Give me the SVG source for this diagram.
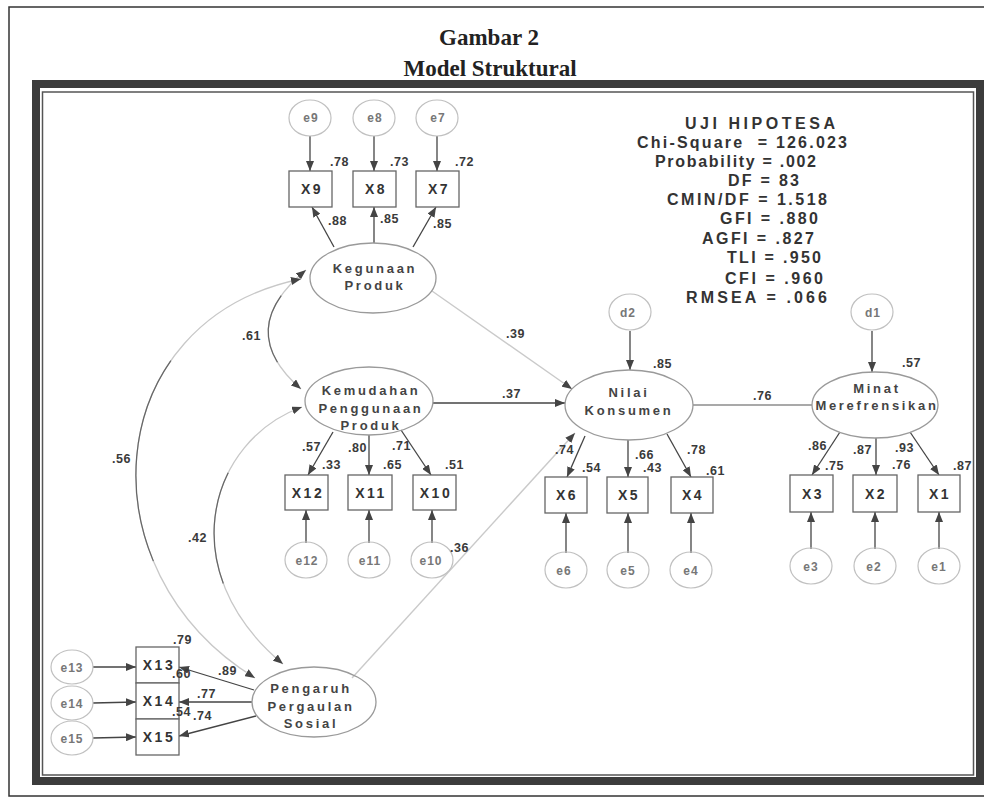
<svg xmlns="http://www.w3.org/2000/svg" width="984" height="804" viewBox="0 0 984 804">
<defs>
<marker id="ah" viewBox="0 0 10 8" refX="10" refY="4" markerWidth="10" markerHeight="8" markerUnits="userSpaceOnUse" orient="auto"><path d="M0,0 L10,4 L0,8 z" fill="#444"/></marker>
<marker id="as" viewBox="0 0 10 8" refX="10" refY="4" markerWidth="10" markerHeight="8" markerUnits="userSpaceOnUse" orient="auto-start-reverse"><path d="M0,0 L10,4 L0,8 z" fill="#444"/></marker>
<style>
.title{font-family:"Liberation Serif","Times New Roman",serif;font-weight:bold;font-size:23px;fill:#222;text-anchor:middle}
.stat{font-family:"Liberation Sans",Arial,sans-serif;font-weight:bold;font-size:16px;fill:#333}
.lat{fill:none;stroke:#9a9a9a;stroke-width:1.3}
.lt{font-family:"Liberation Sans",Arial,sans-serif;font-weight:bold;font-size:13px;letter-spacing:2.7px;fill:#444;text-anchor:middle}
.box{fill:#fff;stroke:#666;stroke-width:1.3}
.bt{font-family:"Liberation Sans",Arial,sans-serif;font-weight:bold;font-size:14px;letter-spacing:2.5px;fill:#333;text-anchor:middle}
.err{fill:none;stroke:#c0c0c0;stroke-width:1.2}
.et{font-family:"Liberation Sans",Arial,sans-serif;font-weight:bold;font-size:12px;letter-spacing:1px;fill:#777;text-anchor:middle}
.lbl{font-family:"Liberation Sans",Arial,sans-serif;font-weight:bold;font-size:12.5px;letter-spacing:0.5px;fill:#3a3a3a}
.ar{stroke:#444;stroke-width:1.3;fill:none;marker-end:url(#ah)}
.ln{stroke:#555;stroke-width:1.2;fill:none}
.fa{stroke:#cacaca;stroke-width:1.4;fill:none;marker-end:url(#ah)}
.cv{stroke:#c8c8c8;stroke-width:1.3;fill:none;marker-end:url(#ah);marker-start:url(#as)}
.cvd{stroke:#666;stroke-width:1.2;fill:none}
</style>
</defs>
<rect x="0" y="0" width="984" height="804" fill="#fff"/>
<g id="frame">
<rect x="9" y="7" width="1000" height="789" fill="none" stroke="#333" stroke-width="1.5"/>
<rect x="36" y="84" width="944" height="697" fill="none" stroke="#3c3c3c" stroke-width="8"/>
<rect x="42.5" y="92" width="931" height="683" fill="none" stroke="#555" stroke-width="1.5"/>
</g>
<g id="title">
<text class="title" x="489" y="45">Gambar 2</text>
<text class="title" x="490" y="76">Model Struktural</text>
</g>
<g id="fit-stats">
<text class="stat" x="685" y="129" textLength="150" lengthAdjust="spacing">UJI HIPOTESA</text>
<text class="stat" x="637" y="148" textLength="210" lengthAdjust="spacing" xml:space="preserve">Chi-Square  = 126.023</text>
<text class="stat" x="655" y="167" textLength="161" lengthAdjust="spacing">Probability = .002</text>
<text class="stat" x="728" y="186" textLength="71" lengthAdjust="spacing">DF = 83</text>
<text class="stat" x="667" y="205" textLength="160" lengthAdjust="spacing">CMIN/DF = 1.518</text>
<text class="stat" x="720" y="224" textLength="98" lengthAdjust="spacing">GFI = .880</text>
<text class="stat" x="702" y="244" textLength="112" lengthAdjust="spacing">AGFI = .827</text>
<text class="stat" x="727" y="263" textLength="94" lengthAdjust="spacing">TLI = .950</text>
<text class="stat" x="725" y="284" textLength="98" lengthAdjust="spacing">CFI = .960</text>
<text class="stat" x="686" y="303" textLength="141" lengthAdjust="spacing">RMSEA = .066</text>
</g>
<g id="connectors">
<path class="cv" d="M 306 270 Q 233 330 301 389"/>
<path class="cvd" d="M 306 270 Q 233 330 301 389" pathLength="100" stroke-dasharray="0 25 50 100"/>
<path class="cv" d="M 301 279 C 100 320, 80 570, 255 678"/>
<path class="cvd" d="M 301 279 C 100 320, 80 570, 255 678" pathLength="100" stroke-dasharray="0 30 40 100"/>
<path class="cv" d="M 302 407 C 210 440, 170 570, 283 664"/>
<path class="cvd" d="M 302 407 C 210 440, 170 570, 283 664" pathLength="100" stroke-dasharray="0 32 36 100"/>
<line class="fa" x1="432" y1="291" x2="572" y2="389"/>
<line class="ar" x1="433" y1="403" x2="565" y2="403"/>
<line class="fa" x1="352" y1="678" x2="575" y2="433"/>
<line class="ln" x1="693" y1="405" x2="812" y2="405"/>
<line class="ar" x1="630" y1="331" x2="630" y2="370"/>
<line class="ar" x1="872" y1="331" x2="872" y2="372"/>
<line class="ar" x1="310" y1="136" x2="310" y2="171"/>
<line class="ar" x1="374" y1="136" x2="374" y2="171"/>
<line class="ar" x1="437" y1="136" x2="437" y2="171"/>
<line class="ar" x1="334" y1="247" x2="312" y2="207"/>
<line class="ar" x1="374" y1="243" x2="374" y2="207"/>
<line class="ar" x1="413" y1="247" x2="436" y2="207"/>
<line class="ar" x1="333" y1="432" x2="308" y2="475"/>
<line class="ar" x1="369" y1="435" x2="369" y2="475"/>
<line class="ar" x1="401" y1="430" x2="431" y2="475"/>
<line class="ar" x1="306" y1="543" x2="306" y2="510"/>
<line class="ar" x1="369" y1="543" x2="369" y2="510"/>
<line class="ar" x1="432" y1="543" x2="432" y2="510"/>
<line class="ar" x1="585" y1="436" x2="567" y2="477"/>
<line class="ar" x1="628" y1="440" x2="628" y2="477"/>
<line class="ar" x1="667" y1="434" x2="691" y2="477"/>
<line class="ar" x1="566" y1="553" x2="566" y2="513"/>
<line class="ar" x1="628" y1="553" x2="628" y2="513"/>
<line class="ar" x1="691" y1="553" x2="691" y2="513"/>
<line class="ar" x1="840" y1="432" x2="812" y2="475"/>
<line class="ar" x1="876" y1="438" x2="876" y2="475"/>
<line class="ar" x1="910" y1="432" x2="939" y2="475"/>
<line class="ar" x1="811" y1="549" x2="811" y2="512"/>
<line class="ar" x1="875" y1="549" x2="875" y2="512"/>
<line class="ar" x1="939" y1="549" x2="939" y2="512"/>
<line class="ar" x1="93" y1="667" x2="136" y2="667"/>
<line class="ar" x1="93" y1="703" x2="136" y2="702"/>
<line class="ar" x1="93" y1="738" x2="136" y2="737"/>
<line class="ar" x1="254" y1="690" x2="179" y2="667"/>
<line class="ar" x1="252" y1="702" x2="179" y2="702"/>
<line class="ar" x1="256" y1="716" x2="179" y2="736"/>
</g>
<g id="Kegunaan">
<ellipse class="lat" cx="373" cy="278" rx="63" ry="35"/>
<text class="lt" x="375" y="273">Kegunaan</text>
<text class="lt" x="375" y="290">Produk</text>
</g>
<g id="Kemudahan">
<ellipse class="lat" cx="369" cy="401" rx="64" ry="34"/>
<text class="lt" x="371" y="395">Kemudahan</text>
<text class="lt" x="371" y="413">Penggunaan</text>
<text class="lt" x="371" y="430">Produk</text>
</g>
<g id="Nilai">
<ellipse class="lat" cx="629" cy="405" rx="64" ry="35"/>
<text class="lt" x="629" y="397">Nilai</text>
<text class="lt" x="629" y="415">Konsumen</text>
</g>
<g id="Minat">
<ellipse class="lat" cx="875" cy="405" rx="63" ry="33"/>
<text class="lt" x="877" y="393">Minat</text>
<text class="lt" x="877" y="410">Merefrensikan</text>
</g>
<g id="Pengaruh">
<ellipse class="lat" cx="314" cy="702" rx="62" ry="35"/>
<text class="lt" x="311" y="693">Pengaruh</text>
<text class="lt" x="311" y="711">Pergaulan</text>
<text class="lt" x="311" y="728">Sosial</text>
</g>
<g id="X9"><rect class="box" x="289" y="171" width="43" height="36"/><text class="bt" x="312" y="194">X9</text></g>
<g id="X8"><rect class="box" x="353" y="171" width="43" height="36"/><text class="bt" x="376" y="194">X8</text></g>
<g id="X7"><rect class="box" x="416" y="171" width="43" height="36"/><text class="bt" x="439" y="194">X7</text></g>
<g id="X12"><rect class="box" x="285" y="475" width="43" height="35"/><text class="bt" x="308" y="498">X12</text></g>
<g id="X11"><rect class="box" x="348" y="475" width="44" height="35"/><text class="bt" x="371" y="498">X11</text></g>
<g id="X10"><rect class="box" x="413" y="475" width="43" height="35"/><text class="bt" x="436" y="498">X10</text></g>
<g id="X6"><rect class="box" x="545" y="477" width="42" height="36"/><text class="bt" x="567" y="500">X6</text></g>
<g id="X5"><rect class="box" x="607" y="477" width="41" height="36"/><text class="bt" x="629" y="500">X5</text></g>
<g id="X4"><rect class="box" x="671" y="477" width="42" height="36"/><text class="bt" x="693" y="500">X4</text></g>
<g id="X3"><rect class="box" x="790" y="475" width="43" height="37"/><text class="bt" x="813" y="499">X3</text></g>
<g id="X2"><rect class="box" x="853" y="475" width="44" height="37"/><text class="bt" x="876" y="499">X2</text></g>
<g id="X1"><rect class="box" x="918" y="475" width="42" height="37"/><text class="bt" x="940" y="499">X1</text></g>
<g id="X13"><rect class="box" x="136" y="647" width="43" height="36"/><text class="bt" x="159" y="670">X13</text></g>
<g id="X14"><rect class="box" x="136" y="683" width="43" height="36"/><text class="bt" x="159" y="706">X14</text></g>
<g id="X15"><rect class="box" x="136" y="719" width="43" height="36"/><text class="bt" x="159" y="742">X15</text></g>
<g id="e9"><ellipse class="err" cx="310" cy="118" rx="21" ry="18"/><text class="et" x="311" y="122">e9</text></g>
<g id="e8"><ellipse class="err" cx="374" cy="118" rx="21" ry="18"/><text class="et" x="375" y="122">e8</text></g>
<g id="e7"><ellipse class="err" cx="437" cy="118" rx="21" ry="18"/><text class="et" x="438" y="122">e7</text></g>
<g id="d2"><ellipse class="err" cx="630" cy="312" rx="21" ry="18"/><text class="et" x="628" y="317">d2</text></g>
<g id="d1"><ellipse class="err" cx="872" cy="312" rx="21" ry="18"/><text class="et" x="873" y="317">d1</text></g>
<g id="e12"><ellipse class="err" cx="306" cy="560" rx="21" ry="18"/><text class="et" x="307" y="565">e12</text></g>
<g id="e11"><ellipse class="err" cx="369" cy="560" rx="21" ry="18"/><text class="et" x="370" y="565">e11</text></g>
<g id="e10"><ellipse class="err" cx="432" cy="560" rx="21" ry="18"/><text class="et" x="431" y="565">e10</text></g>
<g id="e6"><ellipse class="err" cx="566" cy="570" rx="21" ry="18"/><text class="et" x="564" y="575">e6</text></g>
<g id="e5"><ellipse class="err" cx="628" cy="570" rx="21" ry="18"/><text class="et" x="628" y="575">e5</text></g>
<g id="e4"><ellipse class="err" cx="691" cy="570" rx="21" ry="18"/><text class="et" x="691" y="575">e4</text></g>
<g id="e3"><ellipse class="err" cx="811" cy="566" rx="21" ry="18"/><text class="et" x="811" y="571">e3</text></g>
<g id="e2"><ellipse class="err" cx="875" cy="566" rx="21" ry="18"/><text class="et" x="874" y="571">e2</text></g>
<g id="e1"><ellipse class="err" cx="939" cy="566" rx="21" ry="18"/><text class="et" x="939" y="571">e1</text></g>
<g id="e13"><ellipse class="err" cx="72" cy="667" rx="21" ry="17"/><text class="et" x="72" y="672">e13</text></g>
<g id="e14"><ellipse class="err" cx="72" cy="703" rx="21" ry="17"/><text class="et" x="72" y="708">e14</text></g>
<g id="e15"><ellipse class="err" cx="72" cy="738" rx="21" ry="17"/><text class="et" x="72" y="743">e15</text></g>
<g id="labels">
<text class="lbl" x="330" y="166">.78</text>
<text class="lbl" x="390" y="166">.73</text>
<text class="lbl" x="455" y="166">.72</text>
<text class="lbl" x="328" y="225">.88</text>
<text class="lbl" x="380" y="223">.85</text>
<text class="lbl" x="433" y="228">.85</text>
<text class="lbl" x="242" y="340">.61</text>
<text class="lbl" x="506" y="338">.39</text>
<text class="lbl" x="653" y="368">.85</text>
<text class="lbl" x="902" y="367">.57</text>
<text class="lbl" x="502" y="398">.37</text>
<text class="lbl" x="753" y="400">.76</text>
<text class="lbl" x="302" y="451">.57</text>
<text class="lbl" x="322" y="469">.33</text>
<text class="lbl" x="348" y="452">.80</text>
<text class="lbl" x="383" y="469">.65</text>
<text class="lbl" x="392" y="450">.71</text>
<text class="lbl" x="445" y="469">.51</text>
<text class="lbl" x="450" y="552">.36</text>
<text class="lbl" x="555" y="454">.74</text>
<text class="lbl" x="582" y="472">.54</text>
<text class="lbl" x="635" y="459">.66</text>
<text class="lbl" x="643" y="472">.43</text>
<text class="lbl" x="687" y="454">.78</text>
<text class="lbl" x="706" y="475">.61</text>
<text class="lbl" x="808" y="450">.86</text>
<text class="lbl" x="825" y="470">.75</text>
<text class="lbl" x="853" y="454">.87</text>
<text class="lbl" x="892" y="469">.76</text>
<text class="lbl" x="895" y="452">.93</text>
<text class="lbl" x="953" y="470">.87</text>
<text class="lbl" x="112" y="463">.56</text>
<text class="lbl" x="188" y="542">.42</text>
<text class="lbl" x="173" y="644">.79</text>
<text class="lbl" x="172" y="678">.60</text>
<text class="lbl" x="218" y="675">.89</text>
<text class="lbl" x="197" y="698">.77</text>
<text class="lbl" x="172" y="716">.54</text>
<text class="lbl" x="193" y="720">.74</text>
</g>
</svg>
